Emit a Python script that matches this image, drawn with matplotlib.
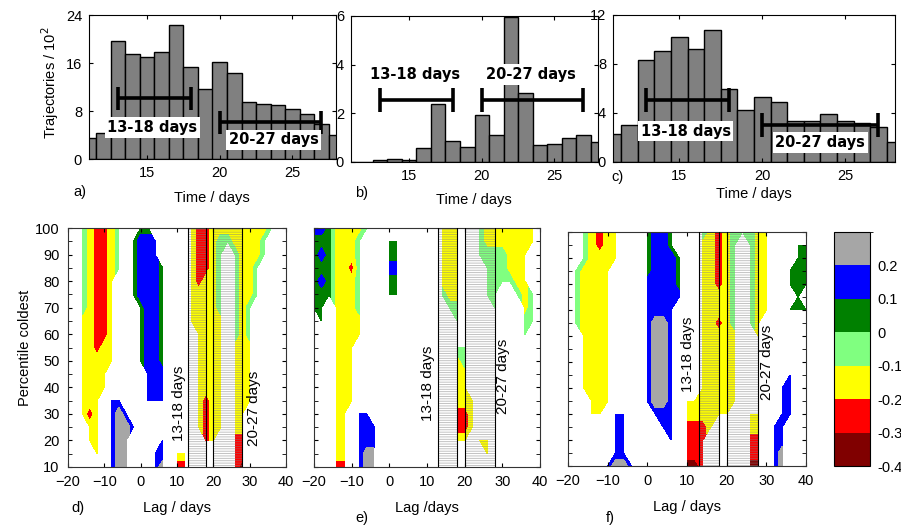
import matplotlib
matplotlib.use("Agg")
import matplotlib.pyplot as plt
import numpy as np
from matplotlib.cm import ScalarMappable
from matplotlib.colors import BoundaryNorm, ListedColormap

plt.rcParams["font.family"] = ["Liberation Sans", "DejaVu Sans"]
plt.rcParams["font.size"] = 10.5
plt.rcParams["hatch.linewidth"] = 0.6

W, H = 901, 525

# ---- top row: trajectory arrival histograms ----
time_days = [11, 12, 13, 14, 15, 16, 17, 18, 19, 20, 21, 22, 23, 24, 25, 26, 27, 28]
traj_a = [3.5, 4.4, 19.6, 17.5, 17.0, 17.9, 22.4, 15.4, 11.6, 16.1, 14.4, 9.5, 9.2, 9.0, 8.3, 7.5, 5.9, 4.0]
traj_b = [0.0, 0.0, 0.1, 0.12, 0.1, 0.56, 2.39, 0.85, 0.63, 1.92, 1.13, 5.95, 2.84, 0.7, 0.74, 1.0, 1.1, 0.83]
traj_c = [2.25, 3.0, 8.34, 9.1, 10.18, 9.2, 10.78, 5.96, 4.22, 5.28, 4.88, 3.33, 3.33, 3.9, 3.33, 3.2, 2.84, 1.63]

periods = [(13, 18), (20, 27)]
period_labels = ["13-18 days", "20-27 days"]

# ---- bottom row: lag / percentile fields (class codes) ----
# k <-0.3, r -0.3..-0.2, y -0.2..-0.1, l -0.1..0, g 0..0.1, b 0.1..0.2, s >0.2, . not shown
lags = np.arange(-20, 41, 2)
percentiles = np.arange(100, 9, -5)

rows_d = [
    "..lyrryl.. gg.....yrr yyyyyyyyl. .",
    "..lyrryl.g bbb....yrr yllyyyyl.. .",
    "..lyrryl.g bbb....yrr yl.lyyyl.. .",
    "..lyrryl.g bbbg...yrr yl.lyyl... .",
    "..lyrry..g bbbg...yry yl.lyyl... .",
    "..lyrry..g bbbg...yyy yl.lyyl... .",
    "..lyrry... gbbg...yyy yl.lyl.... .",
    "..yyrry... gbbg...yyy yy.lyl.... .",
    "..yyrry... gbbg....yy yy.lyl.... .",
    "..yyryy... gbbg....yy yy.yyy.... .",
    "..yyyyy... gbbg....yy yy.yyy.... .",
    "..yyyy.... .bbb....yy yy.yyy.... .",
    "..yyyy.... .bbb....yy yy.yyy.... .",
    "..yyy.bb.. .bbb....yr yy.yyy.... .",
    "..yry.bsb. ........yr yy.yy..... .",
    "...yy.bssb ........yr yy.yy..... .",
    "...yy.bss. ...b.....r y..rr..... .",
    "....y.bss. ..bb.yy... ...rr..... .",
    "......bss. ..bs.rr... ...rk..... .",
]
rows_e = [
    "bbgyyyyl.. .......yyy ..lyyyyyyy .",
    "gggyyyl... gg.....yyy ..lyyyyyyy .",
    "gbgyyyl... gg.....yyy ..llllyyy. .",
    "gggyyrl... bb.....yyy ...lllyyy. .",
    "gbgyyyl... gg.....yyy ...llllyy. .",
    "gggyyyl... gg.....lyy ...ll..lyl .",
    "gg.yyyl... ........ll ....l...yl .",
    ".g.yyyy... .........l ........ll .",
    "...yyyy... .......... ........l. .",
    "...yyy.... .........l l......... .",
    "...yyy.... .........y l......... .",
    "...yyy.... .........y y......... .",
    "...yyy.... .........y y......... .",
    "...yyy.... .........y yy........ .",
    "...yy.bb.. .........r ry........ .",
    "...yy.bbb. .........r ry........ .",
    "...yy.bbb. .........y y.yy...... .",
    "...yy.bss. .......... ...y...... .",
    "...rr.bss. .......... .......... .",
]
rows_f = [
    "..lyryy... gbbg...lyr ylllyy.... .",
    "..lyryy... gbbg...yyr yl.lyy...g g",
    "..lyyyy... gbbbg..yyr yl.lyy...g g",
    ".lyyyy.... gbbbg..yyr yl.lyy..gg g",
    ".lyyyy.... bbbbg..yyr yl.lyy..gg g",
    ".lyyyy.... bbbbb..yyy yl.lyy...g .",
    ".lyyyy.... bbbb...yyy yl.lyy..gg g",
    ".lyyyy.... bssb...yyr yl.ly..... .",
    "..yyyy.... bssb...yyy yy..y..... .",
    "..yyyy.... bssb...yyy yy........ .",
    "..yyyy.... bssb...yyy yy........ .",
    "..yyyy.... bssb...yyy yy......b. .",
    "..yyyy.... bssb...yyy yy.....bb. .",
    "...yyy.... bssb.yyyyy yy.....bb. .",
    "...yy.bb.. .bbb.yyyyy y..yy..bb. .",
    "......bb.. ..bb.rrry. ...yy.bb.. .",
    "......bb.. ...b.rrr.. ...rr.bb.. .",
    "......bb.. .....rrr.. ...rr.bs.. .",
    ".....bssb. .....kkr.. ...kk.bs.. .",
]

class_values = {"k": -0.35, "r": -0.25, "y": -0.15, "l": -0.05, "g": 0.05, "b": 0.15, "s": 0.25}
levels = [-0.4, -0.3, -0.2, -0.1, 0.0, 0.1, 0.2, 0.3]
level_colors = ["#800000", "#ff0000", "#ffff00", "#80ff80", "#008000", "#0000ff", "#a6a6a6"]
cbar_labels = ["-0.4", "-0.3", "-0.2", "-0.1", "0", "0.1", "0.2"]


def px_axes(fig, x0, y0, x1, y1):
    return fig.add_axes([x0 / W, 1 - y1 / H, (x1 - x0) / W, (y1 - y0) / H])


def fig_text(fig, x, y, s, **kw):
    fig.text(x / W, 1 - y / H, s, ha="center", va="center", **kw)


def parse_field(rows):
    return np.array([[class_values.get(c, np.nan) for c in r.replace(" ", "")] for r in rows])


def plot_hist(ax, counts, ymax, yticks, bar_y, cap, label_xy):
    ax.bar(time_days, counts, width=1.0, color="#808080", edgecolor="black", linewidth=1.0, zorder=1)
    ax.set_xlim(11, 28)
    ax.set_ylim(0, ymax)
    ax.set_xticks([15, 20, 25])
    ax.set_yticks(yticks)
    ax.tick_params(direction="in", top=True, right=True, length=3, pad=5)
    for (x0, x1), y in zip(periods, bar_y):
        ax.plot([x0, x1], [y, y], color="black", lw=2.6, solid_capstyle="butt", zorder=3)
        ax.plot([x0, x0], [y - cap, y + cap], color="black", lw=2.6, solid_capstyle="butt", zorder=3)
        ax.plot([x1, x1], [y - cap, y + cap], color="black", lw=2.6, solid_capstyle="butt", zorder=3)
    for text, (x, y) in zip(period_labels, label_xy):
        ax.text(x, y, text, ha="center", va="center", fontsize=10.5, fontweight="bold",
                family="DejaVu Sans", zorder=4,
                bbox=dict(facecolor="white", edgecolor="none", pad=2.0))


def plot_field(ax, rows, left_labels, t13_xy, t20_xy):
    field = parse_field(rows)
    ax.contourf(lags, percentiles, field, levels=levels, colors=level_colors, zorder=1)
    # striped shading of the two periods, laid over the fields
    for x0, x1 in [(13, 18), (20, 28)]:
        ax.axvspan(x0, x1, facecolor="none", edgecolor=(0.5, 0.5, 0.5, 0.55),
                   hatch="-------", linewidth=0, zorder=2)
    for x in [13, 18, 20, 28]:
        ax.axvline(x, color="black", lw=0.8, zorder=3)
    ax.set_xlim(-20, 40)
    ax.set_ylim(10, 100)
    ax.set_xticks(range(-20, 41, 10))
    ax.set_yticks(range(10, 101, 10))
    ax.set_yticks(range(15, 100, 10), minor=True)
    ax.tick_params(which="both", direction="in", top=True, right=True, length=3, pad=6)
    ax.tick_params(labelleft=left_labels)
    ax.text(*t13_xy, "13-18 days", rotation=90, ha="center", va="center", fontsize=11, zorder=4)
    ax.text(*t20_xy, "20-27 days", rotation=90, ha="center", va="center", fontsize=11, zorder=4)
    for sp in ax.spines.values():
        sp.set_linewidth(0.8)
        sp.set_color("#333333")


fig = plt.figure(figsize=(W / 100, H / 100), dpi=100)

ax_a = px_axes(fig, 89, 15, 336, 159)
ax_b = px_axes(fig, 351, 16, 598, 162)
ax_c = px_axes(fig, 613, 15, 895, 162)
plot_hist(ax_a, traj_a, 24, [0, 8, 16, 24], [10.1, 6.15], 1.9, [(15.37, 5.27), (23.7, 3.2)])
plot_hist(ax_b, traj_b, 6, [0, 2, 4, 6], [2.56, 2.56], 0.5, [(15.4, 3.59), (23.4, 3.59)])
plot_hist(ax_c, traj_c, 12, [0, 4, 8, 12], [5.09, 3.03], 0.98, [(15.38, 2.52), (23.5, 1.57)])

fig_text(fig, 50, 83, "Trajectories / 10$^2$", rotation=90, fontsize=10.5)
fig_text(fig, 212, 198, "Time / days")
fig_text(fig, 474, 200, "Time / days")
fig_text(fig, 754, 194, "Time / days")
fig_text(fig, 80, 192, "a)")
fig_text(fig, 362, 193, "b)")
fig_text(fig, 618, 177, "c)")

ax_d = px_axes(fig, 68, 228, 286, 467)
ax_e = px_axes(fig, 314, 228, 540, 467)
ax_f = px_axes(fig, 568, 232, 806, 466)
plot_field(ax_d, rows_d, True, (10.5, 34), (31.1, 32))
plot_field(ax_e, rows_e, False, (10.3, 41.5), (30.3, 44))
plot_field(ax_f, rows_f, False, (10.3, 53), (30.1, 50))

fig_text(fig, 25, 348, "Percentile coldest", rotation=90, fontsize=10.5)
fig_text(fig, 177, 508, "Lag / days")
fig_text(fig, 427, 508, "Lag /days")
fig_text(fig, 687, 507, "Lag / days")
fig_text(fig, 78, 508, "d)")
fig_text(fig, 362, 518, "e)")
fig_text(fig, 610, 518, "f)")

cax = px_axes(fig, 834, 232, 870, 466)
cmap = ListedColormap(level_colors)
norm = BoundaryNorm(levels, cmap.N)
cb = fig.colorbar(ScalarMappable(norm=norm, cmap=cmap), cax=cax, ticks=levels[:-1])
cb.ax.set_yticklabels(cbar_labels)
cb.ax.tick_params(length=0, pad=5, labelsize=10.5)
cb.outline.set_linewidth(0.8)

fig.savefig("out.png", dpi=100)
